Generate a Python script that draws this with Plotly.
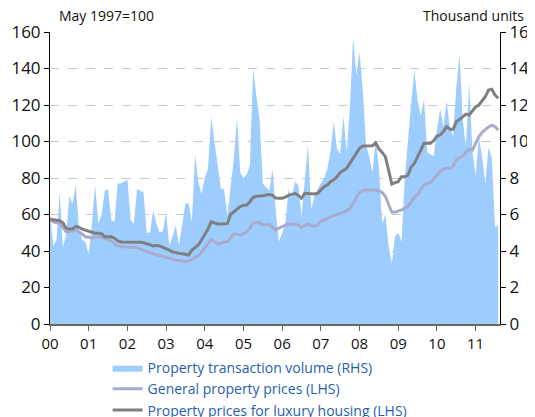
import plotly.graph_objects as go

years_lbl = ["00", "01", "02", "03", "04", "05", "06", "07", "08", "09", "10", "11"]

volume = [
    6.0, 4.3, 4.6, 7.2, 4.2, 4.9, 7.0, 6.6, 7.6, 5.2, 4.6, 4.5,
    3.8, 5.5, 7.6, 5.5, 6.0, 7.3, 7.4, 5.7, 5.6, 7.7, 7.7, 7.8,
    7.9, 5.7, 5.5, 7.4, 7.3, 7.2, 5.0, 5.0, 6.2, 5.5, 5.0, 5.1,
    6.1, 4.3, 4.8, 5.4, 4.3, 5.5, 6.6, 6.6, 5.6, 9.3, 7.8, 7.1,
    8.0, 8.5, 11.4, 10.0, 8.6, 7.4, 7.4, 5.9, 7.5, 9.0, 11.3, 8.3,
    8.0, 8.2, 8.7, 14.0, 12.5, 11.2, 7.7, 7.5, 7.3, 8.5, 6.2, 4.5,
    5.0, 5.5, 7.4, 6.9, 7.8, 7.6, 5.9, 7.9, 9.8, 6.3, 7.0, 7.4,
    7.7, 8.0, 8.5, 9.5, 11.1, 9.6, 9.3, 11.4, 9.4, 11.8, 15.7, 13.6,
    14.9, 12.8, 9.8, 9.2, 8.3, 10.1, 8.6, 5.5, 6.0, 4.3, 3.3, 4.8,
    5.0, 4.5, 7.9, 10.1, 12.1, 13.9, 12.2, 11.4, 12.3, 9.4, 9.3, 9.2,
    10.6, 11.8, 10.8, 12.2, 10.8, 10.3, 12.9, 14.8, 11.2, 9.7, 13.2, 9.5,
    8.1, 10.2, 9.2, 7.7, 9.7, 9.1, 5.3, 5.4,
]

general = [
    57.0, 56.0, 55.5, 55.2, 53.0, 50.6, 50.6, 51.0, 51.5, 50.5, 49.0, 47.8,
    47.5, 47.0, 47.5, 47.8, 47.5, 46.8, 46.0, 45.5, 44.0, 42.7, 42.5, 42.3,
    42.2, 42.0, 42.0, 41.8, 41.0, 40.3, 39.6, 39.0, 38.3, 37.8, 37.5, 37.0,
    36.5, 36.0, 35.2, 35.0, 34.8, 34.5, 34.2, 34.5, 35.4, 36.3, 37.3, 39.5,
    41.5, 44.0, 46.4, 45.0, 43.8, 44.3, 45.0, 45.1, 47.0, 49.3, 49.0, 48.8,
    49.5, 50.6, 52.5, 55.5, 55.5, 55.5, 54.2, 54.2, 54.5, 53.0, 51.5, 52.5,
    53.5, 54.2, 54.5, 54.8, 54.8, 54.0, 53.0, 54.0, 54.6, 54.0, 53.7, 54.2,
    56.5, 57.0, 58.0, 58.8, 59.5, 60.0, 60.5, 61.2, 62.0, 63.5, 66.0, 69.5,
    72.0, 73.0, 73.4, 73.2, 73.4, 73.4, 72.8, 72.2, 70.0, 66.0, 61.2, 61.3,
    61.7, 62.5, 63.4, 64.3, 67.0, 69.5, 71.0, 74.0, 76.2, 77.0, 77.4, 79.5,
    81.6, 83.5, 85.0, 85.3, 85.3, 86.5, 89.9, 91.0, 92.0, 94.0, 95.7, 95.3,
    99.0, 102.6, 105.0, 106.7, 108.0, 109.0, 108.1, 106.3,
]

luxury = [
    57.4, 57.0, 56.8, 56.6, 55.5, 52.5, 52.0, 52.0, 53.5, 53.0, 52.0, 51.5,
    51.0, 50.5, 49.7, 49.7, 49.5, 47.8, 47.8, 47.8, 47.0, 45.5, 45.0, 45.0,
    45.0, 45.0, 45.0, 45.0, 44.8, 44.5, 44.2, 43.5, 42.7, 43.0, 42.7, 42.0,
    41.6, 40.5, 39.5, 39.0, 38.7, 38.5, 38.0, 37.8, 40.5, 42.0, 43.3, 46.0,
    48.8, 52.0, 56.0, 55.5, 54.8, 54.8, 54.8, 55.0, 60.0, 61.5, 63.0, 64.3,
    65.0, 65.2, 67.0, 69.4, 70.0, 70.0, 70.3, 70.7, 71.0, 70.5, 69.0, 68.9,
    68.9, 69.5, 70.5, 71.0, 71.6, 70.5, 68.9, 71.6, 71.4, 71.2, 71.2, 71.6,
    73.4, 75.2, 76.2, 78.0, 79.0, 80.7, 83.0, 84.0, 85.3, 88.0, 90.8, 93.5,
    96.3, 97.5, 97.7, 97.7, 97.7, 99.3, 96.0, 94.0, 91.7, 84.4, 76.7, 77.5,
    78.0, 80.7, 80.7, 81.6, 86.0, 88.0, 92.0, 95.3, 99.0, 99.0, 99.0, 100.5,
    103.0, 103.6, 105.5, 108.1, 106.7, 106.7, 110.8, 112.0, 113.6, 115.0, 114.5, 117.0,
    119.0, 120.0, 122.5, 124.6, 128.2, 128.6, 125.5, 123.7,
]

x = [2000 + i / 12 for i in range(len(volume))]
tick_years = [2000 + i for i in range(len(years_lbl))]

FONT = "Open Sans"
fig = go.Figure()
fig.add_trace(go.Scatter(
    x=x, y=volume, yaxis="y", mode="lines", fill="tozeroy",
    line=dict(width=0, color="#9dccff"), fillcolor="#9dccff",
    name="Property transaction volume (RHS)",
))
fig.add_trace(go.Scatter(
    x=x, y=general, yaxis="y2", mode="lines",
    line=dict(width=3, color="#a9abcd"),
    name="General property prices (LHS)",
))
fig.add_trace(go.Scatter(
    x=x, y=luxury, yaxis="y2", mode="lines",
    line=dict(width=3, color="#7f7f7f"),
    name="Property prices for luxury housing (LHS)",
))

fig.update_layout(
    width=527, height=409,
    margin=dict(l=42, r=35, t=24, b=93, autoexpand=False),
    paper_bgcolor="white", plot_bgcolor="white",
    font=dict(family=FONT, size=15, color="#111111"),
    showlegend=True,
    legend=dict(
        x=0.128, xanchor="left", y=-0.096, yanchor="top",
        font=dict(family=FONT, size=14, color="#1f5fae"),
        bgcolor="rgba(0,0,0,0)", tracegroupgap=0, itemwidth=30,
    ),
    xaxis=dict(
        range=[2000, 2011.63], tickvals=tick_years, ticktext=years_lbl,
        showgrid=False, zeroline=False, showline=True, linecolor="#666666",
        linewidth=2, ticks="outside", ticklen=5, tickcolor="#666666",
        tickfont=dict(size=15),
    ),
    yaxis=dict(
        side="right", range=[0, 16], tickvals=list(range(0, 17, 2)),
        showgrid=True, gridcolor="#c8c8c8", griddash="dash", gridwidth=1,
        zeroline=False, showline=True, linecolor="black", linewidth=1,
        ticks="outside", ticklen=5, tickcolor="black", tickfont=dict(size=17),
    ),
    yaxis2=dict(
        side="left", overlaying="y", range=[0, 160],
        tickvals=list(range(0, 161, 20)), showgrid=False, zeroline=False,
        showline=True, linecolor="black", linewidth=1,
        ticks="outside", ticklen=5, tickcolor="black", tickfont=dict(size=17),
    ),
    annotations=[
        dict(text="May 1997=100", xref="paper", yref="paper", x=0.018, y=1.0,
             xanchor="left", yanchor="bottom", yshift=6, borderpad=0,
             showarrow=False, font=dict(size=14)),
        dict(text="Thousand units", xref="paper", yref="paper", x=1.056, y=1.0,
             xanchor="right", yanchor="bottom", yshift=6, borderpad=0,
             showarrow=False, font=dict(size=14)),
    ],
)

fig.write_html("out.html")
